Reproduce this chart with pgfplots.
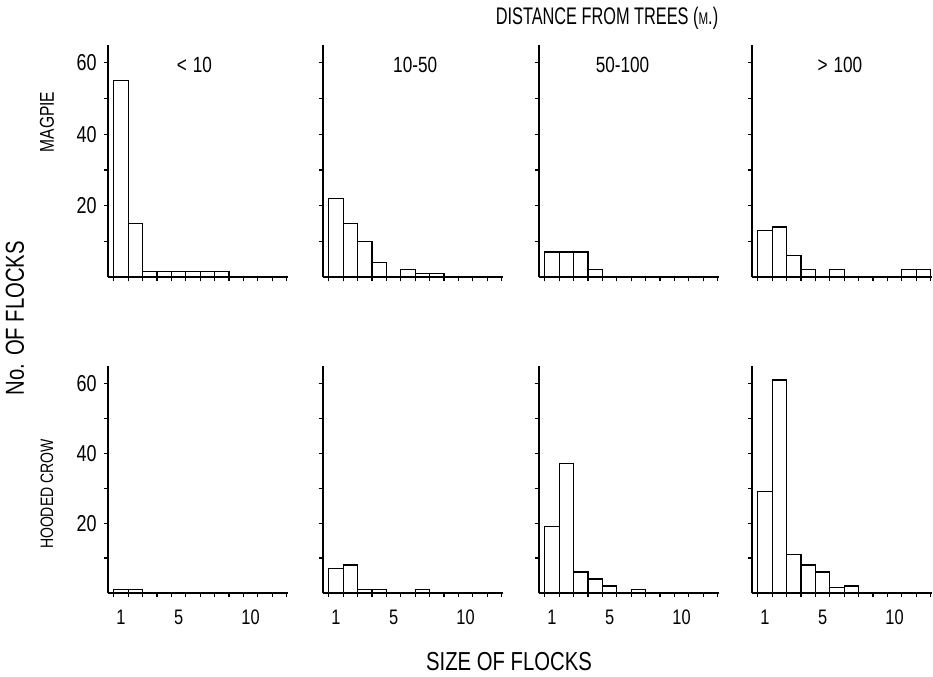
\documentclass[border=0pt]{standalone}
\usepackage{fontspec}
\setmainfont{Liberation Sans}[FakeStretch=0.78]
\newfontfamily\narrowfont{Liberation Sans}[FakeStretch=0.68]
\usepackage{pgfplots}
\pgfplotsset{compat=1.18}

\pgfplotsset{
  panel/.style={
    scale only axis, width=90pt, anchor=south west,
    xmin=0.1, xmax=12.6, ymin=0, ymax=65,
    axis x line=bottom, axis y line=left,
    axis line style={-, line width=0.6pt},
    tick align=outside, major tick length=2.2pt,
    tick style={black, line width=0.6pt},
    xtick={0.5,1.5,...,12.5}, xticklabels={},
    ytick={10,20,...,60}, yticklabels={},
    y tick label style={font=\fontsize{11.5}{11.5}\selectfont},
    /pgf/number format/assume math mode=true,
    clip=false,
  },
  toprow/.style={panel, height=116pt},
  botrow/.style={panel, height=113.5pt,
    extra x ticks={1,5,10}, extra x tick labels={1,5,10},
    extra x tick style={major tick length=0pt,
      tick label style={font=\fontsize{10.5}{10.5}\selectfont, yshift=-5pt}},
  },
  leftcol/.style={yticklabels={,20,,40,,60}},
  hist/.style={ybar, bar width=1, draw=black, fill=none, line width=0.6pt},
}

\begin{document}
\begin{tikzpicture}
\path[use as bounding box] (0,0) rectangle (466.5pt,338pt);

% ---- magpie, top row ----
\begin{axis}[toprow, leftcol, at={(54pt,199.5pt)}]
\addplot[hist] coordinates {(1,55)(2,15)(3,1.5)(4,1.5)(5,1.5)(6,1.5)(7,1.5)(8,1.5)};
\node[font=\fontsize{11}{11}\selectfont] at (axis cs:6.1,59.5) {<\hspace{3pt}10};
\end{axis}

\begin{axis}[toprow, at={(161.5pt,199.5pt)}]
\addplot[hist] coordinates {(1,22)(2,15)(3,10)(4,4)(6,2)(7,1)(8,1)};
\node[font=\fontsize{11}{11}\selectfont] at (axis cs:6.5,59.5) {10-50};
\end{axis}

\begin{axis}[toprow, at={(269.5pt,199.5pt)}]
\addplot[hist] coordinates {(1,7)(2,7)(3,7)(4,2)};
\node[font=\fontsize{11}{11}\selectfont] at (axis cs:5.9,59.5) {50-100};
\end{axis}

\begin{axis}[toprow, at={(376pt,199.5pt)}]
\addplot[hist] coordinates {(1,13)(2,14)(3,6)(4,2)(6,2)(11,2)(12,2)};
\node[font=\fontsize{11}{11}\selectfont] at (axis cs:6.2,59.5) {>\hspace{3pt}100};
\end{axis}

% ---- hooded crow, bottom row ----
\begin{axis}[botrow, leftcol, at={(54pt,41.5pt)}]
\addplot[hist] coordinates {(1,1)(2,1)};
\end{axis}

\begin{axis}[botrow, at={(161.5pt,41.5pt)}]
\addplot[hist] coordinates {(1,7)(2,8)(3,1)(4,1)(7,1)};
\end{axis}

\begin{axis}[botrow, at={(269.5pt,41.5pt)}]
\addplot[hist] coordinates {(1,19)(2,37)(3,6)(4,4)(5,2)(7,1)};
\end{axis}

\begin{axis}[botrow, at={(376pt,41.5pt)}]
\addplot[hist] coordinates {(1,29)(2,61)(3,11)(4,8)(5,6)(6,1.5)(7,2)};
\end{axis}

% ---- labels ----
\node[font=\narrowfont\fontsize{12}{12}\selectfont] at (303.5pt,329pt)
  {DISTANCE FROM TREES ({\fontsize{8.5}{8.5}\selectfont M}.)};
\node[font=\fontsize{13}{13}\selectfont] at (254.5pt,7pt) {SIZE OF FLOCKS};
\node[font=\fontsize{13}{13}\selectfont, rotate=90] at (7.5pt,179pt) {No. OF FLOCKS};
\node[font=\fontsize{10}{10}\selectfont, rotate=90] at (23.5pt,277pt) {MAGPIE};
\node[font=\fontsize{9}{9}\selectfont, rotate=90] at (23.5pt,91pt) {HOODED CROW};
\end{tikzpicture}
\end{document}
